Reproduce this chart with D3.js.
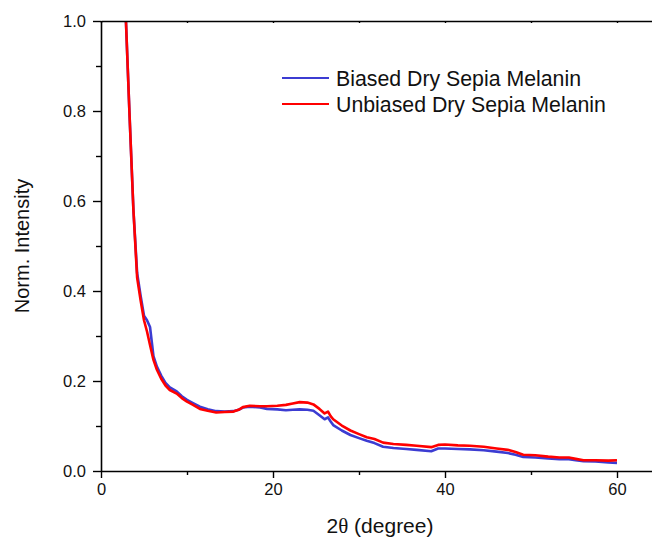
<!DOCTYPE html>
<html>
<head>
<meta charset="utf-8">
<script src="https://cdn.jsdelivr.net/npm/d3@7"></script>
<style>
    body { margin: 0; background: #fff; }
    svg { display: block; font-family: "Liberation Sans", Arial, sans-serif; }
</style>
</head>
<body>
<svg id="chart" width="652" height="540"></svg>
<script>
// 2theta positions (degree)
const twoTheta = [2.7, 2.9, 3.3, 3.77, 4.2, 4.6, 5.0, 5.35, 5.7, 6.1, 6.5, 7.0, 7.5, 8.0, 8.8, 9.4,
    10.0, 10.7, 11.5, 12.4, 13.4, 14.4, 15.4, 16.0, 16.5, 17.3, 18.5, 19.3, 20.5, 21.5, 22.3, 23.1,
    24.0, 24.7, 25.4, 26.0, 26.4, 26.7, 27.0, 28.0, 29.0, 30.0, 30.9, 31.8, 32.8, 34.0, 35.5, 36.7,
    38.4, 39.2, 40.0, 41.5, 42.9, 44.5, 46.0, 47.3, 48.2, 49.1, 50.5, 52.0, 53.3, 54.4, 55.2, 56.1,
    57.5, 59.0, 60.0];

const biased = [1.08, 1.00, 0.80, 0.58, 0.44, 0.39, 0.345, 0.335, 0.32, 0.255, 0.232, 0.212, 0.196, 0.186, 0.177, 0.166,
    0.158, 0.151, 0.143, 0.137, 0.133, 0.132, 0.133, 0.136, 0.141, 0.143, 0.141, 0.138, 0.137, 0.135, 0.136, 0.137,
    0.136, 0.134, 0.124, 0.115, 0.119, 0.110, 0.102, 0.090, 0.080, 0.073, 0.067, 0.062, 0.054, 0.051, 0.049, 0.047,
    0.044, 0.050, 0.050, 0.049, 0.048, 0.046, 0.043, 0.040, 0.036, 0.031, 0.030, 0.028, 0.026, 0.026, 0.024, 0.022,
    0.021, 0.019, 0.018];

const unbiased = [1.08, 1.00, 0.80, 0.58, 0.43, 0.38, 0.335, 0.31, 0.28, 0.247, 0.225, 0.205, 0.19, 0.18, 0.172, 0.162,
    0.154, 0.147, 0.138, 0.134, 0.130, 0.131, 0.132, 0.136, 0.142, 0.145, 0.144, 0.144, 0.145, 0.147, 0.150, 0.153,
    0.152, 0.148, 0.138, 0.128, 0.132, 0.122, 0.115, 0.101, 0.090, 0.082, 0.075, 0.071, 0.063, 0.060, 0.058, 0.056,
    0.053, 0.058, 0.059, 0.057, 0.056, 0.054, 0.050, 0.047, 0.042, 0.036, 0.035, 0.032, 0.030, 0.030, 0.027, 0.024,
    0.024, 0.023, 0.024];

const seriesNames = ['Biased Dry Sepia Melanin', 'Unbiased Dry Sepia Melanin'];
const seriesColors = ['#3c3cd2', '#ff0000'];

const xMajorTicks = [0, 20, 40, 60];
const yMajorTicks = [0, 0.2, 0.4, 0.6, 0.8, 1.0];

const svg = d3.select('#chart');

const x = d3.scaleLinear().domain([0, 65]).range([101, 660]);
const y = d3.scaleLinear().domain([0, 1]).range([471, 21]);

// clip so the curve start above 1.0 is cut at the frame
svg.append('clipPath').attr('id', 'plot-clip')
    .append('rect')
    .attr('x', x(0)).attr('y', y(1))
    .attr('width', x(65) - x(0)).attr('height', y(0) - y(1));

const series = [biased, unbiased].map((vals, i) => ({
    name: seriesNames[i],
    color: seriesColors[i],
    points: twoTheta.map((t, j) => [t, vals[j]])
}));

const line = d3.line()
    .x(d => x(d[0]))
    .y(d => y(d[1]));

svg.append('g')
    .attr('clip-path', 'url(#plot-clip)')
    .selectAll('path')
    .data(series)
    .enter().append('path')
    .attr('d', d => line(d.points))
    .attr('fill', 'none')
    .attr('stroke', d => d.color)
    .attr('stroke-width', 2.6)
    .attr('stroke-linejoin', 'round');

// bottom axis, minor ticks every 10
svg.append('g')
    .attr('transform', 'translate(0,' + y(0) + ')')
    .call(d3.axisBottom(x).tickValues(xMajorTicks).tickFormat(d3.format('d'))
        .tickSizeInner(7).tickSizeOuter(0).tickPadding(5));
svg.append('g')
    .attr('transform', 'translate(0,' + y(0) + ')')
    .call(d3.axisBottom(x).tickValues([10, 30, 50]).tickFormat('').tickSizeInner(4).tickSizeOuter(0))
    .select('.domain').remove();

// left axis, minor ticks every 0.1
svg.append('g')
    .attr('transform', 'translate(' + x(0) + ',0)')
    .call(d3.axisLeft(y).tickValues(yMajorTicks).tickFormat(d3.format('.1f'))
        .tickSizeInner(8).tickSizeOuter(0).tickPadding(7));
svg.append('g')
    .attr('transform', 'translate(' + x(0) + ',0)')
    .call(d3.axisLeft(y).tickValues([0.1, 0.3, 0.5, 0.7, 0.9]).tickFormat('').tickSizeInner(5).tickSizeOuter(0))
    .select('.domain').remove();

// top frame line with small ticks
svg.append('g')
    .attr('transform', 'translate(0,' + y(1) + ')')
    .call(d3.axisTop(x).tickValues([0, 10, 20, 30, 40, 50, 60]).tickFormat('').tickSizeInner(-2).tickSizeOuter(0));

svg.selectAll('.domain').attr('stroke', '#000').attr('stroke-width', 1.6);
svg.selectAll('.tick line').attr('stroke', '#000').attr('stroke-width', 1.4);
svg.selectAll('.tick text')
    .attr('fill', '#111')
    .style('font-size', '16.5px')
    .style('font-family', '"Liberation Sans", Arial, sans-serif');

// axis titles
const xTitle = svg.append('text')
    .attr('x', 380)
    .attr('y', 533)
    .attr('text-anchor', 'middle')
    .style('font-size', '21px')
    .attr('fill', '#111');
xTitle.append('tspan').text('2');
xTitle.append('tspan').style('font-family', '"Liberation Serif", "Times New Roman", serif').text('\u03B8');
xTitle.append('tspan').text(' (degree)');

svg.append('text')
    .attr('transform', 'translate(29,246) rotate(-90)')
    .attr('text-anchor', 'middle')
    .style('font-size', '20px')
    .attr('fill', '#111')
    .text('Norm. Intensity');

// legend
const legend = svg.append('g').attr('class', 'legends');
const legendItem = legend.selectAll('g')
    .data(series)
    .enter().append('g')
    .attr('transform', (d, i) => 'translate(0,' + (78 + i * 26) + ')');

legendItem.append('line')
    .attr('x1', 282).attr('x2', 329)
    .attr('y1', 0).attr('y2', 0)
    .attr('stroke', d => d.color)
    .attr('stroke-width', 2.2);

legendItem.append('text')
    .attr('x', 336)
    .attr('y', 8)
    .style('font-size', '21.3px')
    .attr('fill', '#111')
    .text(d => d.name);
</script>
</body>
</html>
